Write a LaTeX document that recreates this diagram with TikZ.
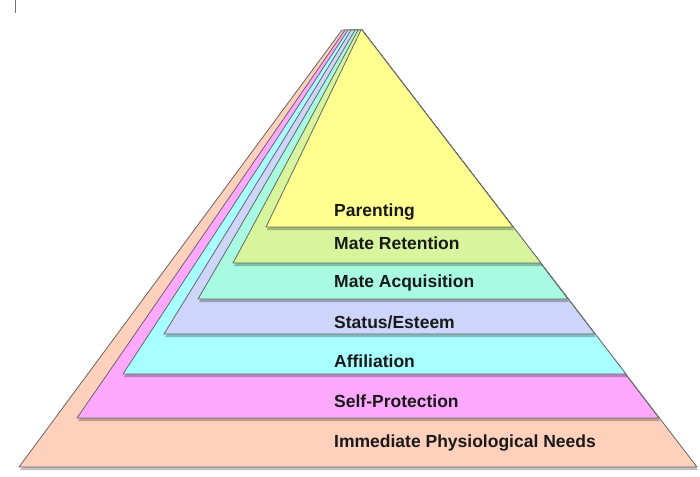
\documentclass[tikz,border=0pt]{standalone}
\usepackage{fontspec}
\setmainfont{Liberation Sans}
\usetikzlibrary{shadows}

\definecolor{peach}{HTML}{FFD0BC}
\definecolor{orchid}{HTML}{FFA8FF}
\definecolor{aqua}{HTML}{A8FFFF}
\definecolor{lavend}{HTML}{CDD5FA}
\definecolor{mint}{HTML}{A8FBE0}
\definecolor{lime}{HTML}{D7F59D}
\definecolor{lemon}{HTML}{FFFF90}

\tikzset{
  layer/.style={draw=black!60,line width=0.8pt,line join=round,
    drop shadow={shadow xshift=1pt,shadow yshift=-3pt,opacity=0.25,fill=black}},
  lvl/.style={anchor=base west,inner sep=0pt,text=black!90,
    font=\bfseries\fontsize{17.5}{20}\selectfont}
}

\begin{document}
\begin{tikzpicture}[x=1pt,y=-1pt]
\useasboundingbox (0,0) rectangle (700,476);
\path (362,30) coordinate (top);
\draw[black!55,line width=1pt] (15,0) -- (15,13);
% layers, bottom one first
\fill[peach,layer]  (19,467) -- (342,30) -- (top) -- (697,467) -- cycle;
\fill[orchid,layer] (77,418) -- (345,30) -- (top) -- (659,418) -- cycle;
\fill[aqua,layer]   (123,374) -- (348,30) -- (top) -- (626,374) -- cycle;
\fill[lavend,layer] (164,334) -- (351,30) -- (top) -- (595,334) -- cycle;
\fill[mint,layer]   (198,299) -- (355,30) -- (top) -- (568,299) -- cycle;
\fill[lime,layer]   (233,263) -- (358,30) -- (top) -- (541,263) -- cycle;
\fill[lemon,layer]  (266,227) -- (361,30) -- (top) -- (513,227) -- cycle;
% labels
\node[lvl] (parenting) at (334,216) {Parenting};
\node[lvl] (retention) at (334,249) {Mate Retention};
\node[lvl] (acquisition) at (334,287) {Mate Acquisition};
\node[lvl] (status) at (334,328) {Status/Esteem};
\node[lvl] (affiliation) at (334,367) {Affiliation};
\node[lvl] (protection) at (334,407) {Self-Protection};
\node[lvl] (physio) at (334,447) {Immediate Physiological Needs};
\end{tikzpicture}
\end{document}
